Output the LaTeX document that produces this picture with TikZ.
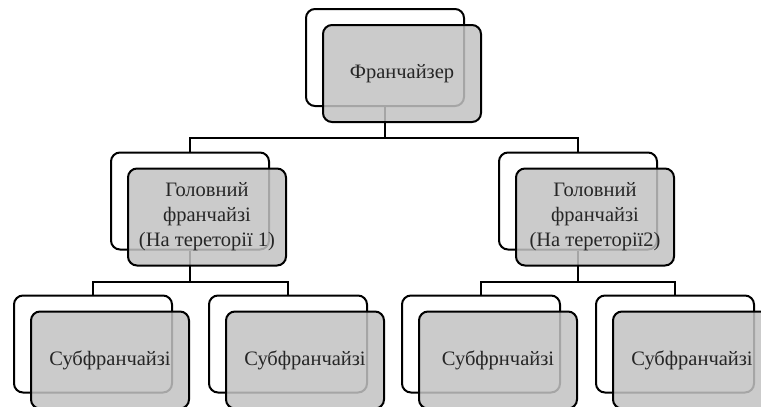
\documentclass[tikz,border=0pt]{standalone}
\usepackage{fontspec}
\setmainfont{Liberation Serif}
\usetikzlibrary{positioning,calc}
\tikzset{
    x=1pt,
    y=-1pt,
    back/.style = {
        draw,
        shape=rectangle,
        rounded corners=9pt,
        minimum height=97pt,
        minimum width=158pt,
        line width=2pt,
        fill=white
    },
    front/.style = {
        back,
        fill=black!24,
        fill opacity=0.85,
        text opacity=1,
        text=black!85,
        align=center,
        font=\fontsize{20.5}{25}\selectfont
    },
    link/.style = {
        draw,
        line width=2pt
    },
}
\begin{document}
\begin{tikzpicture}
            \useasboundingbox (0,0) rectangle (761,407);
            \clip (0,0) rectangle (761,407);

            \node[back] (franch) at (385,57.5) {};
            \node[back] (headl) at (190,201) {};
            \node[back] (headr) at (578,201) {};
            \node[back] (subl1) at (93,344) {};
            \node[back] (subl2) at (288,344) {};
            \node[back] (subr1) at (481,344) {};
            \node[back] (subr2) at (675,344) {};

            \coordinate[below=31pt of franch.south] (jtop);
            \coordinate[below=31pt of headl.south] (jleft);
            \coordinate[below=31pt of headr.south] (jright);

            \path[link] (franch.south) -- (jtop) -| (headl.north);
            \path[link] (jtop) -| (headr.north);
            \path[link] (headl.south) -- (jleft) -| (subl1.north);
            \path[link] (jleft) -| (subl2.north);
            \path[link] (headr.south) -- (jright) -| (subr1.north);
            \path[link] (jright) -| (subr2.north);

            \node[front] (franchf) at ($(franch)+(17,16)$) {Франчайзер};
            \node[front] (headlf) at ($(headl)+(17,16)$) {Головний\\франчайзі\\(На тереторії 1)};
            \node[front] (headrf) at ($(headr)+(17,16)$) {Головний\\франчайзі\\(На тереторії2)};
            \node[front] (subl1f) at ($(subl1)+(17,16)$) {Субфранчайзі};
            \node[front] (subl2f) at ($(subl2)+(17,16)$) {Субфранчайзі};
            \node[front] (subr1f) at ($(subr1)+(17,16)$) {Субфрнчайзі};
            \node[front] (subr2f) at ($(subr2)+(17,16)$) {Субфранчайзі};

        \end{tikzpicture}
\end{document}
